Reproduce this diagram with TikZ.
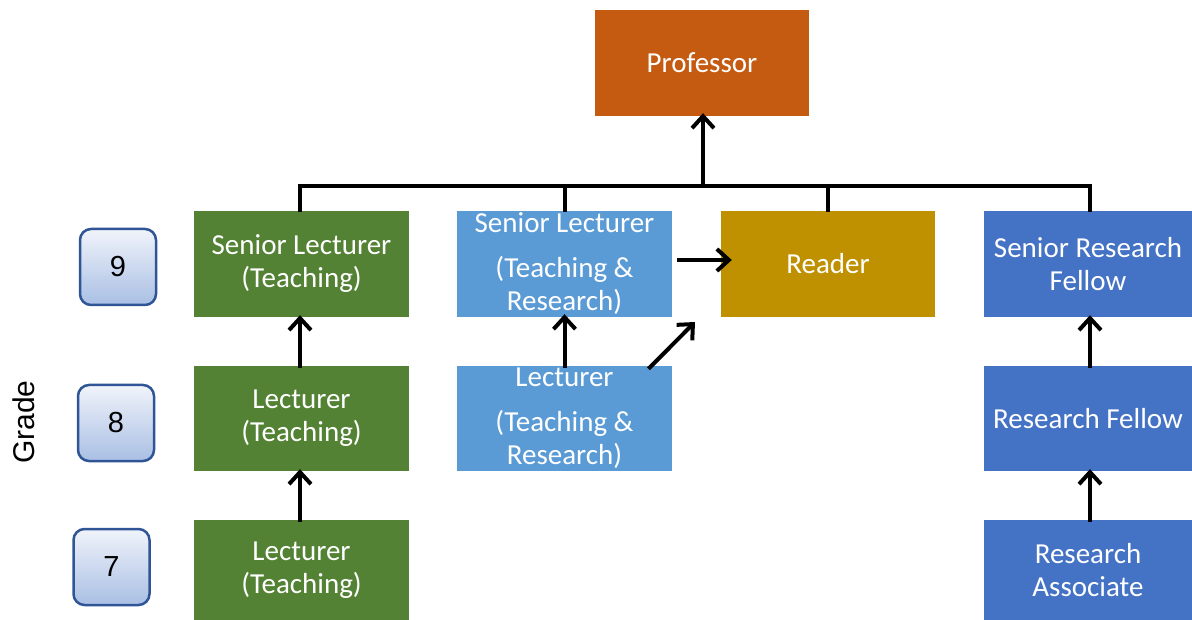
\documentclass[tikz,border=0pt]{standalone}
\usepackage{fontspec}
\setmainfont{Carlito}
\newfontfamily\arialf{Liberation Sans}
\usetikzlibrary{arrows.meta}
\definecolor{profc}{HTML}{C55A11}
\definecolor{greenc}{HTML}{548235}
\definecolor{lblue}{HTML}{5B9BD5}
\definecolor{dblue}{HTML}{4472C4}
\definecolor{goldc}{HTML}{BF9000}
\definecolor{gtop}{HTML}{F0F3FA}
\definecolor{gbot}{HTML}{A9BFE4}
\definecolor{gborder}{HTML}{2F5597}
\tikzset{
  rolebox/.style={rectangle, inner sep=0pt, minimum width=215pt, minimum height=106pt,
    text=white, align=center, font=\fontsize{29}{33}\selectfont},
  gradebox/.style={rectangle, rounded corners=11pt, draw=gborder, line width=2.5pt,
    top color=gtop, bottom color=gbot, minimum width=76pt, minimum height=76pt,
    font=\arialf\fontsize{29}{33}\selectfont},
  conn/.style={line width=4pt},
  arr/.style={line width=4pt, -{Straight Barb[length=12pt,width=22pt,line width=4pt]}}
}
\begin{document}
\begin{tikzpicture}[x=1pt,y=-1pt]
\useasboundingbox (0,0) rectangle (1192,620);
% nodes
\node[rolebox, fill=profc, minimum width=214pt] (prof) at (702,63) {Professor};
\node[rolebox, fill=greenc] (slt) at (301.5,264) {Senior Lecturer\\(Teaching)};
\node[rolebox, fill=lblue] (sltr) at (564.5,264) {Senior Lecturer\\[12pt](Teaching \&\\Research)};
\node[rolebox, fill=goldc, minimum width=214pt] (reader) at (828,264) {Reader};
\node[rolebox, fill=dblue, minimum width=208pt] (srf) at (1088,264) {Senior Research\\Fellow};
\node[rolebox, fill=greenc, minimum height=105pt] (lt8) at (301.5,418.5) {Lecturer\\(Teaching)};
\node[rolebox, fill=lblue, minimum height=105pt] (ltr) at (564.5,418.5) {Lecturer\\[12pt](Teaching \&\\Research)};
\node[rolebox, fill=dblue, minimum width=208pt, minimum height=105pt] (rf) at (1088,418.5) {Research Fellow};
\node[rolebox, fill=greenc, minimum height=100pt] (lt7) at (301.5,570) {Lecturer\\(Teaching)};
\node[rolebox, fill=dblue, minimum width=208pt, minimum height=100pt] (ra) at (1088,570) {Research\\Associate};
% grade boxes
\node[gradebox] (g9) at (118,267) {9};
\node[gradebox] (g8) at (116,423) {8};
\node[gradebox] (g7) at (111.5,567) {7};
\node[rotate=90, font=\arialf\fontsize{30}{34}\selectfont] (grade) at (24,422) {Grade};
% bus
\coordinate (busl) at (300,186);
\coordinate (busr) at (1090,186);
\coordinate (busm) at (703,186);
\draw[conn] ([yshift=-1pt]slt.north -| busl) -- (busl) -- (busr) -- ([yshift=-1pt]srf.north -| busr);
\draw[conn] (busl -| sltr.north) -- ([yshift=-1pt]sltr.north);
\draw[conn] (busl -| reader.north) -- ([yshift=-1pt]reader.north);
\draw[arr] ([yshift=2pt]busm) -- ([yshift=3pt]busm |- prof.south);
% vertical promotions
\draw[arr] ([yshift=-2pt]lt7.north -| busl) -- ([yshift=2pt]lt8.south -| busl);
\draw[arr] ([yshift=-2pt]lt8.north -| busl) -- ([yshift=2pt]slt.south -| busl);
\draw[arr] ([yshift=-2pt]ltr.north) -- ([yshift=3pt]sltr.south);
\draw[arr] ([yshift=-2pt]rf.north -| busr) -- ([yshift=2pt]srf.south -| busr);
\draw[arr] ([yshift=-2pt]ra.north -| busr) -- ([yshift=2pt]rf.south -| busr);
% to reader
\draw[arr] ([xshift=5pt,yshift=4pt]sltr.east) -- ([xshift=11pt,yshift=4pt]reader.west);
\coordinate (diagend) at (695,322);
\draw[arr] ([xshift=84pt,yshift=-3pt]ltr.north) -- (diagend);
\end{tikzpicture}
\end{document}
